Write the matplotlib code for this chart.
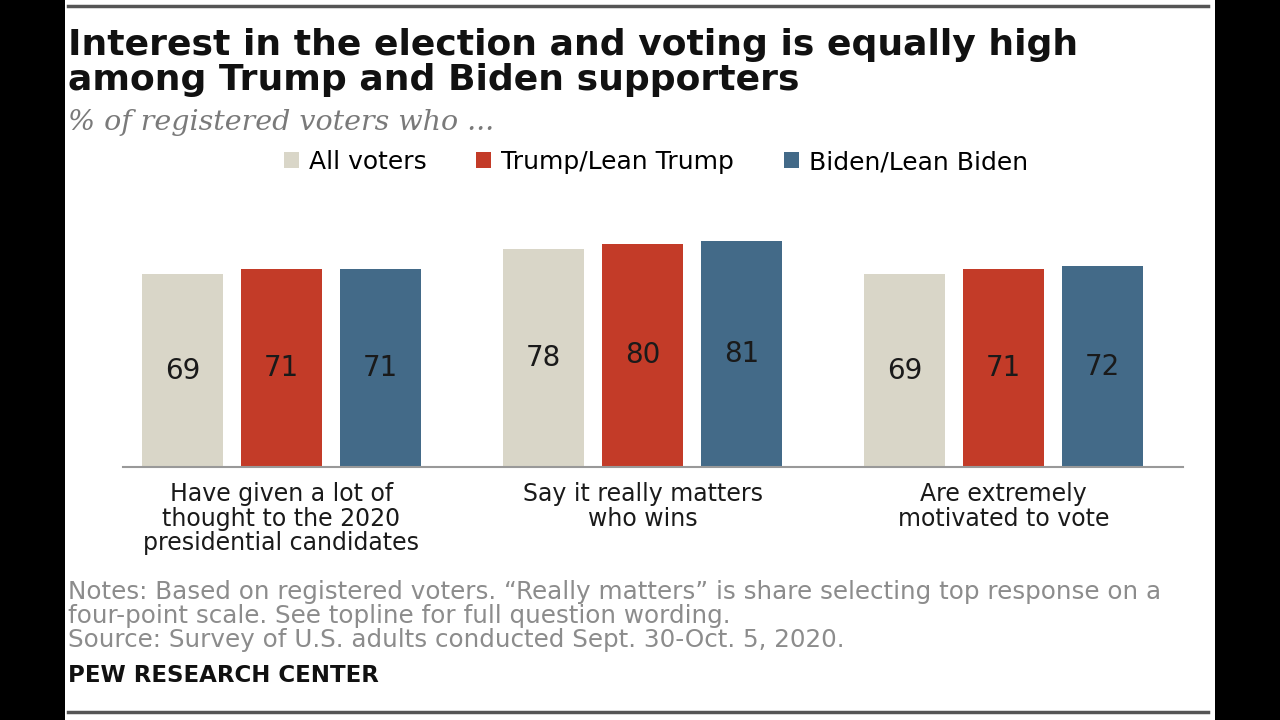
import numpy as np
import matplotlib.pyplot as plt
from matplotlib.patches import Rectangle
from matplotlib.lines import Line2D

W, H = 1280, 720

categories = ["Have given a lot of\nthought to the 2020\npresidential candidates",
              "Say it really matters\nwho wins",
              "Are extremely\nmotivated to vote"]
series_names = ["All voters", "Trump/Lean Trump", "Biden/Lean Biden"]
all_voters = [69, 78, 69]
trump = [71, 80, 71]
biden = [71, 81, 72]
colors = ["#D9D6C8", "#C33B28", "#436A88"]

plt.rcParams["font.family"] = "DejaVu Sans"

fig = plt.figure(figsize=(W / 100, H / 100), dpi=100, facecolor="black")

# white page between the black side borders
fig.patches.append(Rectangle((65 / W, 0), (1215 - 65) / W, 1, transform=fig.transFigure,
                             facecolor="white", edgecolor="none", zorder=-10))
for yy in (6, 712):
    fig.lines.append(Line2D([68 / W, 1208 / W], [1 - yy / H, 1 - yy / H], transform=fig.transFigure,
                            color="#555555", lw=2.5, zorder=-5))

def px(x, y):
    return x / W, 1 - y / H

# axes: baseline at y=467px, x from 123 to 1183
ax_left, ax_right, ax_bottom, ax_top = 123, 1183, 467, 200
ax = fig.add_axes([ax_left / W, 1 - ax_bottom / H, (ax_right - ax_left) / W, (ax_bottom - ax_top) / H])
ax.set_facecolor("none")
ax.set_ylim(0, (ax_bottom - ax_top) / 2.79)
ax.set_xlim(-0.439, 2.497)

x = np.arange(len(categories))
offs = 0.274
width = 0.226
bars = []
for i, (vals, c) in enumerate(zip([all_voters, trump, biden], colors)):
    b = ax.bar(x + (i - 1) * offs, vals, width, color=c, label=series_names[i])
    bars.append(b)
    for xi, v in zip(x + (i - 1) * offs, vals):
        ax.text(xi, v / 2, str(v), ha="center", va="center", fontsize=20, color="#1a1a1a")

for s in ["top", "right", "left"]:
    ax.spines[s].set_visible(False)
ax.spines["bottom"].set_color("#999999")
ax.spines["bottom"].set_linewidth(1.5)
ax.set_yticks([])
ax.set_xticks([])

for xi, cat in zip(x, categories):
    ax.text(xi, -5.5, cat, ha="center", va="top", fontsize=17, color="#1a1a1a",
            linespacing=1.02)

# titles
fig.text(*px(68, 45), "Interest in the election and voting is equally high", fontsize=26,
         fontweight="heavy", va="center", ha="left", color="#111111")
fig.text(*px(68, 80), "among Trump and Biden supporters", fontsize=26,
         fontweight="heavy", va="center", ha="left", color="#111111")
fig.text(*px(68, 122), "% of registered voters who ...", fontsize=20.5, style="italic",
         family="DejaVu Serif", va="center", ha="left", color="#7a7a7a")

leg = fig.legend(handles=bars, labels=series_names, loc="center", ncol=3,
                 bbox_to_anchor=px(656, 162), frameon=False,
                 handlelength=0.6, handleheight=0.6, handletextpad=0.4, columnspacing=2.0,
                 prop={"family": "DejaVu Sans", "size": 18})

notes = ("Notes: Based on registered voters. \u201cReally matters\u201d is share selecting top response on a\n"
         "four-point scale. See topline for full question wording.\n"
         "Source: Survey of U.S. adults conducted Sept. 30-Oct. 5, 2020.")
fig.text(*px(68, 580), notes, fontsize=17.7, va="top", ha="left",
         color="#8c8c8c", linespacing=1.0)
fig.text(*px(68, 675), "PEW RESEARCH CENTER", fontsize=16.5, fontweight="bold",
         va="center", ha="left", color="#111111")

fig.savefig("out.png", dpi=100, facecolor="black")
